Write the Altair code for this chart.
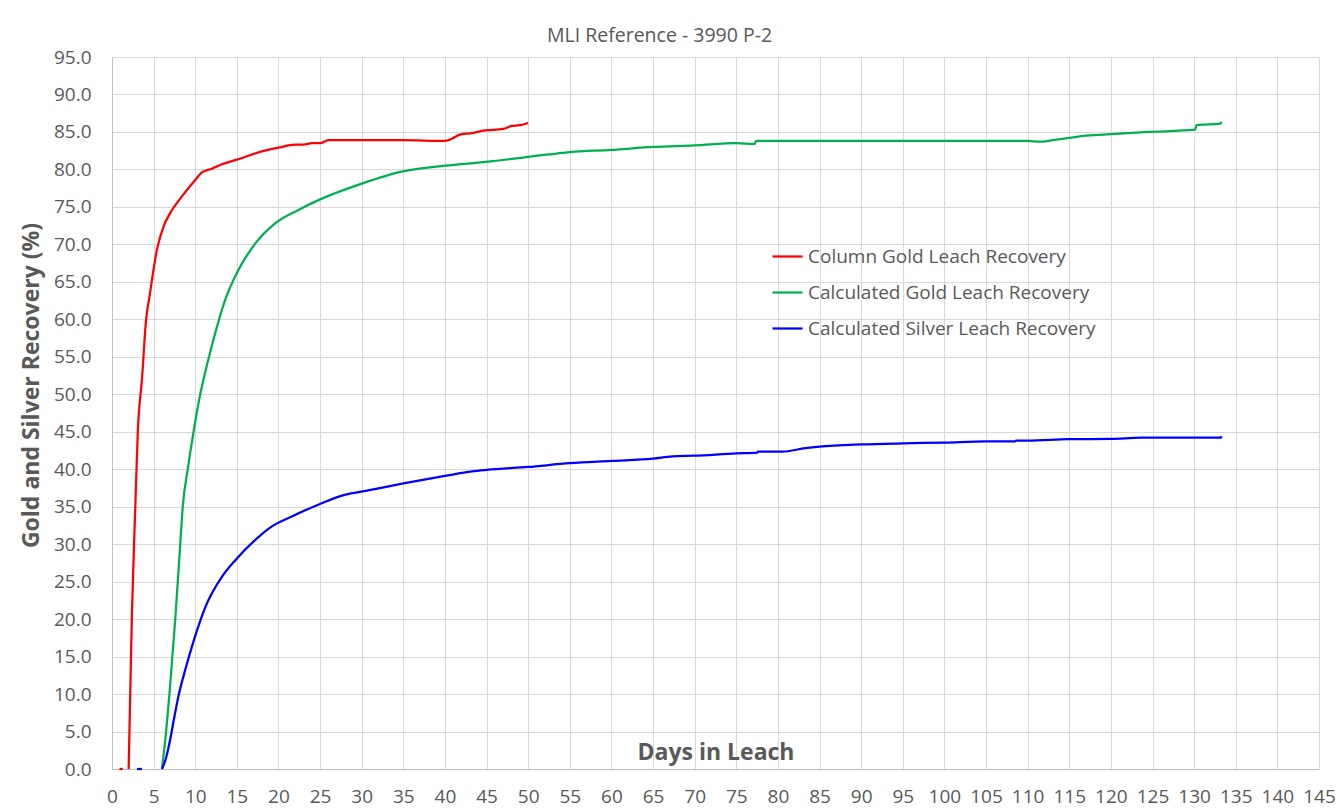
import altair as alt
import pandas as pd

# ---- data ----
series_names = ["Column Gold Leach Recovery", "Calculated Gold Leach Recovery",
                "Calculated Silver Leach Recovery"]
series_colors = ["#FF0000", "#00B050", "#0000FF"]

red_dash_days = [0.9, 1.3]
red_dash_vals = [0.0, 0.0]
red_days = [2.0, 2.4, 2.8, 3.1, 3.6, 4.1, 4.5, 5.4, 6.2, 7.0, 8.4, 10.0, 10.8, 12.0, 13.0,
            15.0, 18.0, 20.0, 22.0, 23.0, 24.0, 25.0, 26.0, 30.0, 35.0, 40.0, 42.0, 43.0,
            44.8, 47.0, 48.0, 49.0, 50.0]
red_vals = [0.0, 21.0, 35.0, 45.0, 52.0, 60.0, 63.0, 69.3, 72.4, 74.2, 76.4, 78.6, 79.6, 80.1,
            80.6, 81.3, 82.4, 82.9, 83.3, 83.3, 83.5, 83.5, 83.9, 83.9, 83.9, 83.8, 84.7,
            84.8, 85.2, 85.4, 85.8, 85.9, 86.2]

green_days = [6.0, 6.5, 6.9, 7.6, 8.2, 8.5, 9.1, 9.8, 10.6, 11.0, 12.0, 13.6, 15.2, 17.2,
              19.6, 22.4, 24.8, 30.0, 34.8, 40.0, 44.9, 52.5, 55.0, 60.0, 65.0, 70.0, 75.0,
              77.2, 77.4, 80.0, 90.0, 100.0, 110.0, 111.5, 113.0, 115.0, 117.0, 118.5, 120.0,
              124.5, 130.1, 130.3, 133.1, 133.3]
green_vals = [0.0, 5.0, 10.0, 20.0, 30.0, 35.0, 40.0, 45.0, 50.0, 52.0, 56.5, 62.6, 66.6,
              70.1, 72.8, 74.6, 75.9, 78.1, 79.7, 80.5, 81.0, 82.0, 82.3, 82.6, 83.0, 83.2,
              83.5, 83.4, 83.8, 83.8, 83.8, 83.8, 83.8, 83.7, 83.9, 84.2, 84.5, 84.6, 84.7,
              85.0, 85.3, 85.9, 86.1, 86.35]

blue_dash_days = [3.0, 3.6]
blue_dash_vals = [0.0, 0.0]
blue_days = [6.0, 6.5, 7.0, 7.5, 8.0, 8.84, 9.84, 11.25, 13.25, 14.85, 17.25, 19.25, 21.6,
             24.85, 28.05, 30.45, 35.0, 40.0, 43.25, 45.0, 50.0, 55.0, 60.0, 65.0, 67.3, 70.0,
             75.0, 77.5, 77.6, 80.5, 83.3, 85.0, 90.0, 95.0, 100.0, 105.0, 108.5, 108.6,
             110.0, 114.9, 120.0, 123.7, 133.2, 133.3]
blue_vals = [0.0, 1.5, 4.0, 7.0, 9.8, 13.4, 17.2, 21.7, 25.7, 27.9, 30.6, 32.4, 33.7, 35.3,
             36.6, 37.1, 38.1, 39.1, 39.7, 39.9, 40.3, 40.8, 41.1, 41.4, 41.7, 41.8, 42.1,
             42.2, 42.35, 42.35, 42.8, 43.0, 43.3, 43.45, 43.55, 43.7, 43.7, 43.8, 43.8, 44.0,
             44.05, 44.2, 44.2, 44.4]

x_ticks = list(range(0, 146, 5))
y_ticks = list(range(0, 96, 5))

rows = []
def add(series, part, days, vals):
    for d, v in zip(days, vals):
        rows.append({"series": series, "part": part, "day": d, "value": v})

add(series_names[0], "r0", red_dash_days, red_dash_vals)
add(series_names[0], "r1", red_days, red_vals)
add(series_names[1], "g1", green_days, green_vals)
add(series_names[2], "b0", blue_dash_days, blue_dash_vals)
add(series_names[2], "b1", blue_days, blue_vals)
df = pd.DataFrame(rows)

FONT = "Open Sans"
GREY = "#595959"

chart = alt.Chart(df).mark_line(strokeWidth=2.25, interpolate="monotone").encode(
    x=alt.X("day:Q",
            scale=alt.Scale(domain=[0, 145], nice=False, zero=False),
            axis=alt.Axis(values=x_ticks, title="Days in Leach", format="d",
                          labelPadding=18, titleY=-17, titleBaseline="middle",
                          titleFontSize=23, labelFlush=False)),
    y=alt.Y("value:Q",
            scale=alt.Scale(domain=[0, 95], nice=False),
            axis=alt.Axis(values=y_ticks, format=".1f", title="Gold  and Silver Recovery (%)",
                          labelPadding=21, titleX=-81, titleY=328, titleBaseline="middle",
                          titleAlign="center", titleAngle=270, titleFontSize=23)),
    color=alt.Color("series:N",
                    scale=alt.Scale(domain=series_names, range=series_colors),
                    sort=series_names,
                    legend=alt.Legend(orient="none", legendX=659, legendY=183, title=None,
                                      symbolType="stroke", symbolSize=900,
                                      symbolStrokeWidth=2.25, labelFontSize=19,
                                      labelFont=FONT, labelColor=GREY, labelOffset=4,
                                      rowPadding=9, labelLimit=500)),
    detail="part:N",
).properties(
    width=1207,
    height=712,
    title=alt.Title("MLI Reference - 3990 P-2", fontSize=19.5, font=FONT, color=GREY,
                    fontWeight="normal", anchor="middle", frame="group", dx=-56, offset=2),
    autosize=alt.AutoSizeParams(type="none"),
    padding={"left": 104, "top": 49, "right": 17, "bottom": 38},
).configure_view(
    stroke=None
).configure_axis(
    ticks=False,
    grid=True,
    gridColor="#D9D9D9",
    gridWidth=1,
    domainColor="#BFBFBF",
    domainWidth=1,
    labelFont=FONT,
    labelFontSize=19,
    labelColor=GREY,
    titleFont=FONT,
    titleFontSize=21,
    titleFontWeight="bold",
    titleColor=GREY,
)

chart.save("out.html", embed_options={"renderer": "svg", "actions": False})
